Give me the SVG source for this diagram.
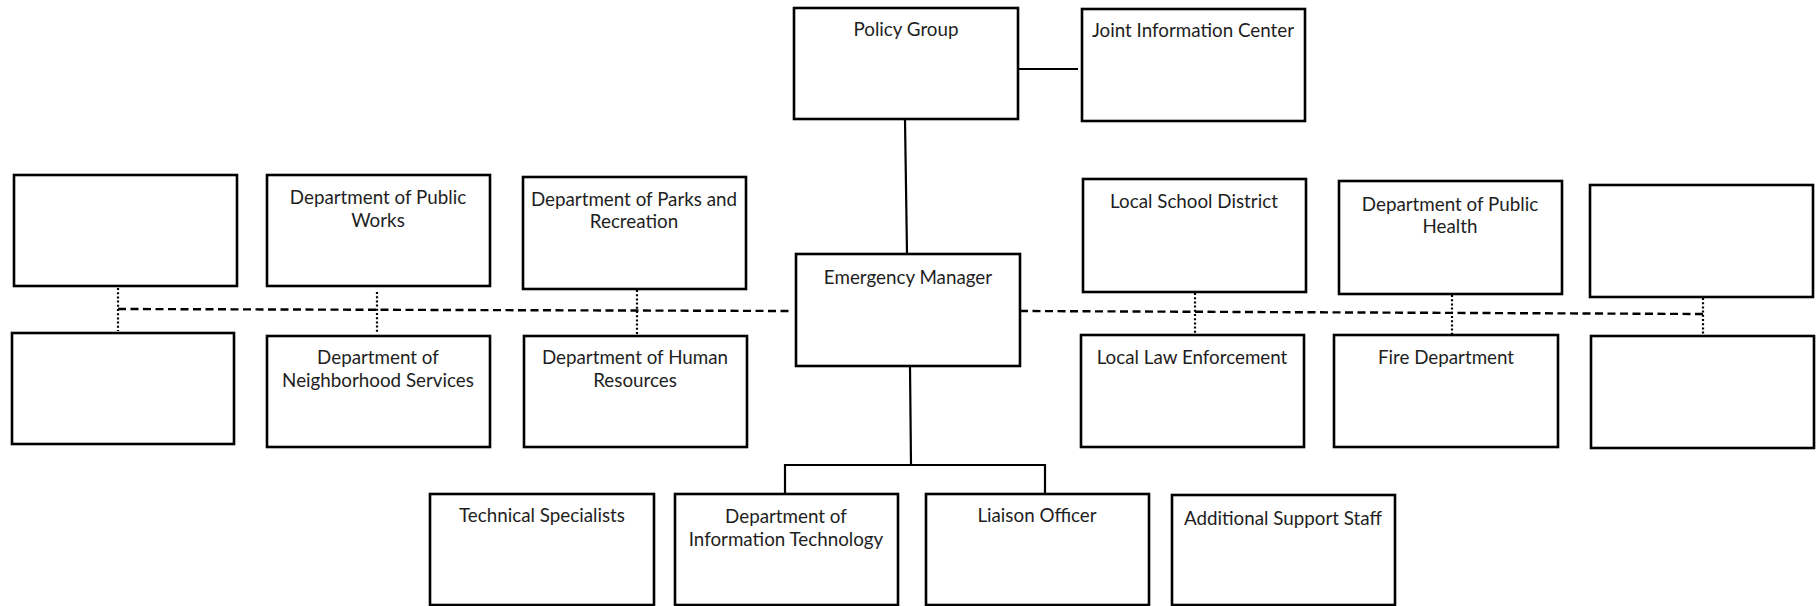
<svg xmlns="http://www.w3.org/2000/svg" width="1818" height="606" viewBox="0 0 1818 606">
<style>
.box{fill:#fff;stroke:#000;stroke-width:2.6}
.lbl{font-family:Lato,"Liberation Sans",sans-serif;font-size:18.8px;fill:#1e1e1e;text-anchor:middle}
.solid{stroke:#000;stroke-width:2.2;fill:none}
.dash{stroke:#000;stroke-width:2.4;fill:none;stroke-dasharray:8 4.5}
.dot{stroke:#000;stroke-width:2.2;fill:none;stroke-dasharray:2 2.2}
</style>
<rect width="1818" height="606" fill="#fff"/>
<g id="connectors">
<line class="solid" x1="1018" y1="69" x2="1078" y2="69"/>
<line class="solid" x1="905" y1="120" x2="907" y2="254"/>
<line class="solid" x1="910" y1="366" x2="911" y2="465"/>
<line class="solid" x1="784" y1="465" x2="1045" y2="465"/>
<line class="solid" x1="785" y1="464" x2="785" y2="494"/>
<line class="solid" x1="1045" y1="464" x2="1045" y2="494"/>
<line class="dash" x1="118" y1="309" x2="790" y2="311"/>
<line class="dash" x1="1020" y1="311" x2="1703" y2="314"/>
<line class="dot" x1="118" y1="288" x2="118" y2="331"/>
<line class="dot" x1="377" y1="292" x2="377" y2="334"/>
<line class="dot" x1="637" y1="290" x2="637" y2="334"/>
<line class="dot" x1="1195" y1="293" x2="1195" y2="334"/>
<line class="dot" x1="1452" y1="295" x2="1452" y2="334"/>
<line class="dot" x1="1703" y1="298" x2="1703" y2="338"/>
</g>
<g id="policy-group"><rect class="box" x="794" y="8" width="224" height="111"/><text class="lbl" x="906" y="36">Policy Group</text></g>
<g id="joint-information-center"><rect class="box" x="1082" y="9" width="223" height="112"/><text class="lbl" x="1193" y="37">Joint Information Center</text></g>
<g id="blank-top-left"><rect class="box" x="14" y="175" width="223" height="111"/></g>
<g id="public-works"><rect class="box" x="267" y="175" width="223" height="111"/><text class="lbl" x="378" y="204">Department of Public</text><text class="lbl" x="378" y="227">Works</text></g>
<g id="parks"><rect class="box" x="523" y="177" width="223" height="112"/><text class="lbl" x="634" y="206">Department of Parks and</text><text class="lbl" x="634" y="228">Recreation</text></g>
<g id="emergency-manager"><rect class="box" x="796" y="254" width="224" height="112"/><text class="lbl" x="908" y="284">Emergency Manager</text></g>
<g id="local-school-district"><rect class="box" x="1083" y="179" width="223" height="113"/><text class="lbl" x="1194" y="208">Local School District</text></g>
<g id="public-health"><rect class="box" x="1339" y="181" width="223" height="113"/><text class="lbl" x="1450" y="211">Department of Public</text><text class="lbl" x="1450" y="233">Health</text></g>
<g id="blank-top-right"><rect class="box" x="1590" y="185" width="223" height="112"/></g>
<g id="blank-bottom-left"><rect class="box" x="12" y="333" width="222" height="111"/></g>
<g id="neighborhood-services"><rect class="box" x="267" y="336" width="223" height="111"/><text class="lbl" x="378" y="364">Department of</text><text class="lbl" x="378" y="387">Neighborhood Services</text></g>
<g id="human-resources"><rect class="box" x="524" y="336" width="223" height="111"/><text class="lbl" x="635" y="364">Department of Human</text><text class="lbl" x="635" y="387">Resources</text></g>
<g id="law-enforcement"><rect class="box" x="1081" y="335" width="223" height="112"/><text class="lbl" x="1192" y="364">Local Law Enforcement</text></g>
<g id="fire-department"><rect class="box" x="1334" y="335" width="224" height="112"/><text class="lbl" x="1446" y="364">Fire Department</text></g>
<g id="blank-bottom-right"><rect class="box" x="1591" y="336" width="223" height="112"/></g>
<g id="technical-specialists"><rect class="box" x="430" y="494" width="224" height="111"/><text class="lbl" x="542" y="522">Technical Specialists</text></g>
<g id="information-technology"><rect class="box" x="675" y="494" width="223" height="111"/><text class="lbl" x="786" y="523">Department of</text><text class="lbl" x="786" y="546">Information Technology</text></g>
<g id="liaison-officer"><rect class="box" x="926" y="494" width="223" height="111"/><text class="lbl" x="1037" y="522">Liaison Officer</text></g>
<g id="additional-support-staff"><rect class="box" x="1172" y="495" width="223" height="110"/><text class="lbl" x="1283" y="525">Additional Support Staff</text></g>
</svg>
